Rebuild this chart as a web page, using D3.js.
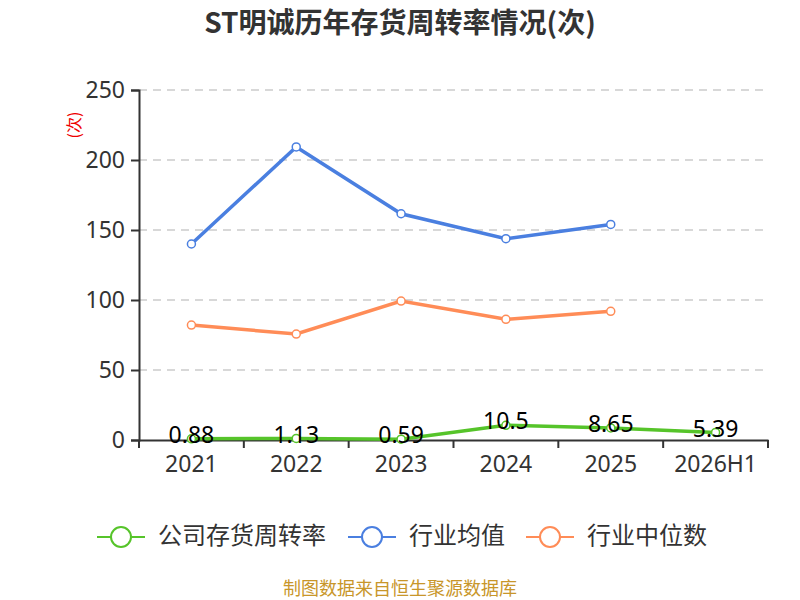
<!DOCTYPE html>
<html>
<head>
<meta charset="utf-8">
<script src="https://cdn.jsdelivr.net/npm/d3@7"></script>
<style>
  body { margin: 0; background: #fff; }
  svg { font-family: "Noto Sans CJK SC", "Noto Sans", sans-serif; }
</style>
</head>
<body>
<div id="chart"></div>
<script>
// chart data
const categories = ["2021", "2022", "2023", "2024", "2025", "2026H1"];
const companyTurnover = [0.88, 1.13, 0.59, 10.5, 8.65, 5.39];
const industryMean = [140, 209.3, 161.6, 143.8, 154];
const industryMedian = [82.1, 75.7, 99.2, 86.2, 91.9];
const yTicks = [0, 50, 100, 150, 200, 250];
const seriesNames = ["公司存货周转率", "行业均值", "行业中位数"];

const colors = ["#56c42a", "#4a7fe0", "#ff8c57"];

const width = 800, height = 600;
const margin = {top: 90, right: 32, bottom: 160, left: 139};
const innerW = width - margin.left - margin.right;
const innerH = height - margin.top - margin.bottom;

const svg = d3.select("#chart").append("svg")
    .attr("width", width)
    .attr("height", height);

svg.append("text")
    .attr("x", width / 2)
    .attr("y", 25)
    .attr("text-anchor", "middle")
    .attr("dominant-baseline", "middle")
    .style("font-size", "28px")
    .style("font-weight", "bold")
    .style("fill", "#333")
    .text("ST明诚历年存货周转率情况(次)");

const g = svg.append("g")
    .attr("transform", "translate(" + margin.left + "," + margin.top + ")");

const xScale = d3.scaleBand()
    .domain(categories)
    .range([0, innerW]);

const yScale = d3.scaleLinear()
    .domain([0, 250])
    .range([innerH, 0]);

// dashed grid
g.selectAll(".grid")
    .data(yTicks.filter(d => d > 0))
    .enter().append("line")
    .attr("class", "grid")
    .attr("x1", 0)
    .attr("x2", innerW)
    .attr("y1", d => yScale(d))
    .attr("y2", d => yScale(d))
    .attr("stroke", "#ccc")
    .attr("stroke-width", 1.5)
    .attr("stroke-dasharray", "8,6");

// y axis
const yAxis = d3.axisLeft(yScale).tickValues(yTicks).tickSize(8).tickPadding(6);
const yAxis_g = g.append("g").call(yAxis);
yAxis_g.select(".domain").attr("stroke", "#333").attr("stroke-width", 2);
yAxis_g.selectAll(".tick line").attr("stroke", "#333").attr("stroke-width", 2);
yAxis_g.selectAll("text")
    .style("font-size", "23px")
    .style("fill", "#333")
    .style("font-family", "'Noto Sans', sans-serif");

// x axis
const xAxis = d3.axisBottom(xScale).tickSize(0).tickPadding(16);
const xAxis_g = g.append("g")
    .attr("transform", "translate(0," + innerH + ")")
    .call(xAxis);
xAxis_g.select(".domain").attr("stroke", "#333").attr("stroke-width", 2);
xAxis_g.selectAll("text")
    .attr("dy", "0.71em")
    .style("font-size", "23px")
    .style("fill", "#333")
    .style("font-family", "'Noto Sans', sans-serif");
// tick marks at band edges
const edges = categories.map(c => xScale(c)).concat([innerW]);
xAxis_g.selectAll(".edge")
    .data(edges)
    .enter().append("line")
    .attr("x1", d => d).attr("x2", d => d)
    .attr("y1", 0).attr("y2", 8)
    .attr("stroke", "#333")
    .attr("stroke-width", 2);

// y unit label
svg.append("text")
    .attr("transform", "translate(76,125) rotate(-90)")
    .attr("text-anchor", "middle")
    .attr("dominant-baseline", "middle")
    .style("font-size", "16px")
    .style("fill", "#e00")
    .text("(次)");

const cx = d => xScale(d) + xScale.bandwidth() / 2;

function drawSeries(values, color) {
  const pts = values.map((v, i) => ({cat: categories[i], v: v}));
  const line = d3.line()
      .x(d => cx(d.cat))
      .y(d => yScale(d.v));
  g.append("path")
      .attr("d", line(pts))
      .attr("fill", "none")
      .attr("stroke", color)
      .attr("stroke-width", 3.5);
  g.selectAll(null)
      .data(pts)
      .enter().append("circle")
      .attr("cx", d => cx(d.cat))
      .attr("cy", d => yScale(d.v))
      .attr("r", 4)
      .attr("fill", "#fff")
      .attr("stroke", color)
      .attr("stroke-width", 1.5);
  return pts;
}

drawSeries(industryMean, colors[1]);
drawSeries(industryMedian, colors[2]);
const companyPts = drawSeries(companyTurnover, colors[0]);

g.selectAll(".label")
    .data(companyPts)
    .enter().append("text")
    .attr("class", "label")
    .attr("x", d => cx(d.cat))
    .attr("y", d => yScale(d.v) - 2)
    .attr("text-anchor", "middle")
    .attr("dominant-baseline", "middle")
    .style("font-size", "23px")
    .style("fill", "#000")
    .style("font-family", "'Noto Sans', sans-serif")
    .text(d => d.v);

// legend
const legendX = [97, 348, 526];
const legend = svg.selectAll(".legend")
    .data(seriesNames)
    .enter().append("g")
    .attr("class", "legend")
    .attr("transform", (d, i) => "translate(" + legendX[i] + ",537)");
legend.append("line")
    .attr("x1", 0).attr("x2", 48)
    .attr("y1", 0).attr("y2", 0)
    .attr("stroke", (d, i) => colors[i])
    .attr("stroke-width", 2);
legend.append("circle")
    .attr("cx", 24).attr("cy", 0).attr("r", 10)
    .attr("fill", "#fff")
    .attr("stroke", (d, i) => colors[i])
    .attr("stroke-width", 2);
legend.append("text")
    .attr("x", 61)
    .attr("y", 0)
    .attr("dominant-baseline", "middle")
    .style("font-size", "24px")
    .style("fill", "#333")
    .text(d => d);

svg.append("text")
    .attr("x", width / 2)
    .attr("y", 590)
    .attr("text-anchor", "middle")
    .attr("dominant-baseline", "middle")
    .style("font-size", "18px")
    .style("fill", "#c8962a")
    .text("制图数据来自恒生聚源数据库");
</script>
</body>
</html>
